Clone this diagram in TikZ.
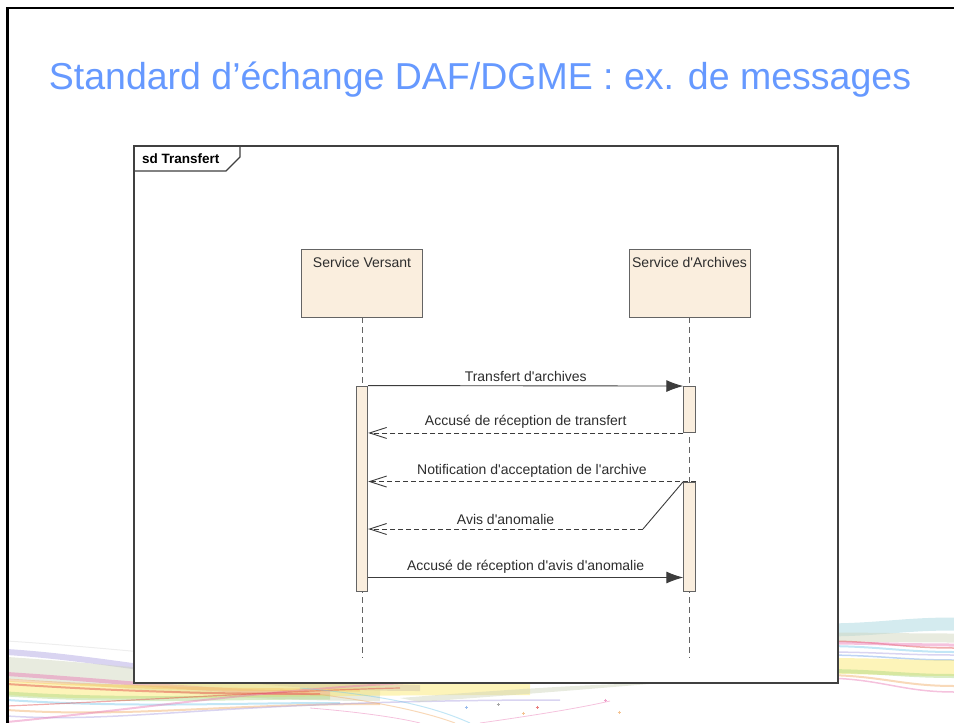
\documentclass[tikz,border=0pt]{standalone}
\usepackage{fontspec}
\setmainfont{Liberation Sans}
\usetikzlibrary{positioning,arrows.meta}
\definecolor{titleblue}{RGB}{102,153,255}
\definecolor{headfill}{RGB}{250,238,222}
\definecolor{headline}{RGB}{100,100,100}
\definecolor{framegray}{RGB}{64,64,64}
\definecolor{msgline}{RGB}{60,60,60}
\definecolor{msgtext}{RGB}{45,45,45}
\definecolor{swpink}{RGB}{232,120,180}
\definecolor{swred}{RGB}{225,70,70}
\definecolor{sworange}{RGB}{240,170,100}
\definecolor{swyellow}{RGB}{250,230,100}
\definecolor{swgreen}{RGB}{170,215,130}
\definecolor{swblue}{RGB}{110,160,230}
\definecolor{swlav}{RGB}{170,160,225}
\definecolor{swteal}{RGB}{160,210,220}
\definecolor{swkhaki}{RGB}{205,210,185}
\definecolor{swcyan}{RGB}{120,200,235}
\newcommand\ap{\textquotesingle}

\begin{document}
\begin{tikzpicture}[x=1pt,y=-1pt,
  lbl/.style={font=\fontsize{14}{15}\selectfont,text=msgtext,inner sep=1pt},
  head/.style={draw=headline,line width=.9pt,fill=headfill,minimum width=121pt,minimum height=68pt,inner sep=0pt},
  bar/.style={draw=headline,line width=.9pt,fill=headfill,minimum width=11.5pt,inner sep=0pt},
  life/.style={draw=headline,line width=.9pt,dash pattern=on 6pt off 4pt},
  call/.style={draw=msgline,line width=.9pt,-{Latex[length=17pt,width=12pt]}},
  reply/.style={draw=msgline,line width=.9pt,dash pattern=on 5pt off 3pt,-{Straight Barb[length=17pt,width=11pt]}},
  swoosh/.style={opacity=.45}]
\useasboundingbox (0,0) rectangle (954,723);

\foreach \c/\a/\b/\e/\w in {black!15/641/662/300/1, swlav/652/688/420/6, swkhaki/668/690/380/22,
  swpink/674/693/330/4, sworange/680/690/360/3, swyellow/688/688/530/14, swgreen/694/697/330/5,
  swcyan/700/703/340/2, sworange/710/704/380/2, swlav/716/700/560/1.5, swred/684/694/320/2}
  \draw[swoosh,\c,line width=\w pt] (7,\a) .. controls (130,\a+8) and (220,\b) .. (\e,\b);
\draw[swoosh,swpink,line width=2pt] (7,722) .. controls (150,708) and (300,684) .. (470,681);
\draw[swoosh,swred,line width=1.2pt] (7,706) .. controls (150,700) and (300,690) .. (400,688);
\fill[swoosh,swkhaki] (400,698) .. controls (500,690) and (590,684) .. (660,683) .. controls (580,690) and (500,696) .. (420,702) -- cycle;
\draw[swoosh,swcyan,line width=1pt] (300,688) .. controls (380,695) and (430,705) .. (470,723);
\draw[swoosh,sworange,line width=1pt] (280,690) .. controls (360,698) and (420,710) .. (455,723);
\draw[swoosh,swpink,line width=.8pt] (310,708) .. controls (360,712) and (400,718) .. (420,723);
\draw[swoosh,swpink,line width=.8pt] (480,723) .. controls (530,716) and (580,708) .. (610,701);
\foreach \c/\x/\y in {swblue/466/707, gray/498/704, sworange/523/713, swred/537/707, sworange/619/712, swpink/605/700}
  \draw[\c,line width=.5pt,opacity=.7] (\x-1.5,\y) -- (\x+1.5,\y) (\x,\y-1.5) -- (\x,\y+1.5);

\foreach \c/\a/\b/\w in {swteal/630/624/13, swkhaki/637/638/9, swred/641/648/1.5, swpink/643/645/3,
  swcyan/646/652/2, swlav/652/655/1.5, swblue/655/660/1.5, swyellow/666/668/16, swgreen/671/676/4,
  sworange/675/686/2, swpink/678/692/1.5}
  \draw[swoosh,\c,line width=\w pt] (820,\a) .. controls (880,\a) and (900,\b) .. (954,\b);

\draw[line width=2.5pt] (7.5,723) -- (7.5,8) -- (954,8);
\node[font=\fontsize{37.5}{40}\selectfont,text=titleblue,anchor=base] (ttl) at (480,89)
  {Standard d’échange DAF/DGME : ex. de messages};

\draw[framegray,line width=1.3pt,fill=white] (134,146) rectangle (838,683);
\draw[framegray,line width=1.1pt] (134,171) -- (226,171) -- (240,157) -- (240,146);
\node[lbl,font=\fontsize{13.5}{15}\selectfont\bfseries,text=black,anchor=base west] (tab) at (141,163) {sd Transfert};

\node[head] (sv) at (362,283) {};
\node[head] (sa) at (689.5,283) {};
\node[lbl,below=8pt of sv.north] {Service Versant};
\node[lbl,below=8pt of sa.north] {Service d\ap Archives};
\coordinate (svend) at (362,658);
\coordinate (saend) at (689.5,658);
\draw[life] (sv.south) -- (svend);
\draw[life] (sa.south) -- (saend);

\node[bar,minimum height=205pt] (svact) at (362,488.5) {};
\node[bar,minimum height=46pt] (saact1) at (689.5,409.5) {};
\node[bar,minimum height=109pt] (saact2) at (689.5,536.5) {};

\draw[call] (svact.north east) -- node[lbl,above=3pt] {Transfert d\ap archives} (saact1.north west);
\draw[reply] (saact1.south west) -- node[lbl,above=3pt] {Accusé de réception de transfert} (saact1.south -| svact.east);
\draw[reply] (saact2.north east) -- node[lbl,above=3pt] {Notification d\ap acceptation de l\ap archive} (saact2.north -| svact.east);
\coordinate (bend) at (643,529);
\draw[msgline,line width=.9pt] (saact2.north west) -- (bend);
\draw[reply] (bend) -- node[lbl,above=3pt] {Avis d\ap anomalie} (bend -| svact.east);
\coordinate (m5) at (368,577.5);
\draw[call] (m5) -- node[lbl,above=3pt] {Accusé de réception d\ap avis d\ap anomalie} (m5 -| saact2.west);
\end{tikzpicture}
\end{document}
